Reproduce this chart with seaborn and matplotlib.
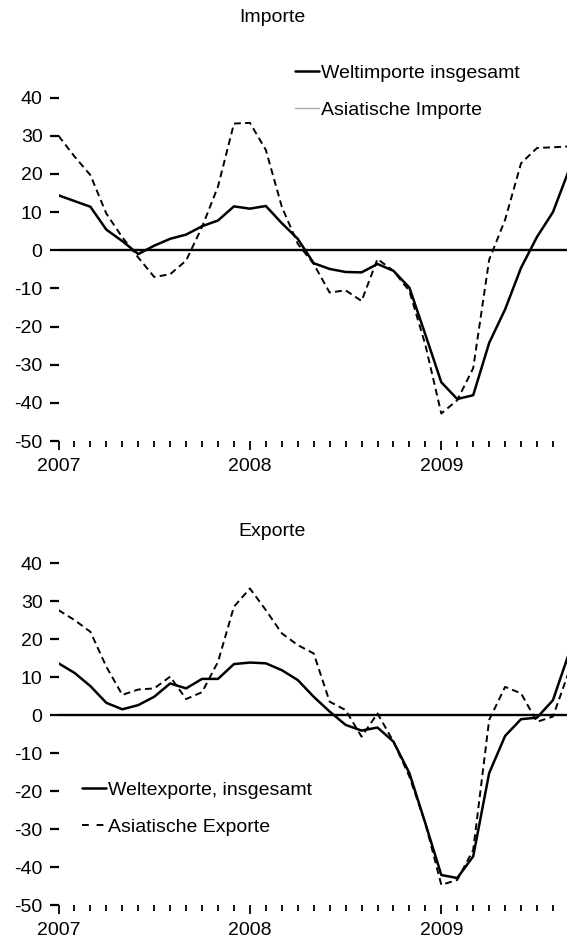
import matplotlib
matplotlib.use("Agg")
import numpy as np
import pandas as pd
import matplotlib.pyplot as plt
import seaborn as sns
from matplotlib.lines import Line2D
from matplotlib.ticker import FixedLocator

# -----------------------------
# Data (monthly, Jan 2007 - Sep 2009, % yoy)
# -----------------------------

months = pd.period_range("2007-01", "2009-09", freq="M").astype(str).tolist()
year_labels = ["2007", "2008", "2009"]

welt_importe = [14.4, 12.9, 11.4, 5.4, 2.4, -1.0, 1.2, 3.0, 4.1, 6.3, 7.8, 11.5,
                10.9, 11.6, 7.1, 3.0, -3.4, -4.9, -5.7, -5.8, -3.6, -5.4, -9.8, -22.1,
                -34.6, -39.0, -38.0, -24.3, -15.5, -4.6, 3.5, 10.0, 21.0]
asien_importe = [30.0, 24.6, 19.7, 9.6, 3.4, -1.9, -7.0, -6.3, -2.7, 6.1, 16.7, 33.2,
                 33.4, 26.3, 11.4, 1.7, -3.6, -11.1, -10.5, -13.3, -2.3, -5.4, -10.7, -24.8,
                 -42.8, -39.3, -30.9, -2.5, 8.0, 22.8, 26.8, 27.0, 27.2]

welt_exporte = [13.6, 11.1, 7.6, 3.2, 1.5, 2.6, 4.8, 8.3, 7.0, 9.5, 9.5, 13.4,
                13.8, 13.6, 11.8, 9.2, 4.8, 0.9, -2.6, -4.1, -3.3, -7.0, -15.3, -28.5,
                -42.1, -42.9, -37.2, -15.3, -5.5, -1.1, -0.7, 3.9, 16.2]
asien_exporte = [27.6, 25.0, 21.9, 12.7, 5.3, 6.7, 7.0, 10.1, 4.2, 6.0, 14.0, 28.5,
                 33.3, 27.6, 21.5, 18.4, 16.2, 3.5, 1.3, -5.7, 0.4, -7.0, -16.2, -28.5,
                 -44.7, -43.4, -35.5, -1.3, 7.4, 5.7, -1.8, -0.4, 11.4]

df = pd.DataFrame({
    "monat": months,
    "t": np.arange(len(months)),
    "welt_importe": welt_importe,
    "asien_importe": asien_importe,
    "welt_exporte": welt_exporte,
    "asien_exporte": asien_exporte,
})

# -----------------------------
# Style
# -----------------------------

sns.set_style("white")
plt.rcParams["font.family"] = ["Liberation Sans", "DejaVu Sans"]
plt.rcParams["text.color"] = "black"
plt.rcParams["xtick.color"] = "black"
plt.rcParams["ytick.color"] = "black"

W, H = 567, 941
fig = plt.figure(figsize=(W / 100, H / 100), dpi=100)

px_month = 15.95
x_left = 58.5
x_width = px_month * (len(months) - 1)
FS = 14


def make_axes(y_bottom_px, px_unit):
    # y_bottom_px = pixel row (from top) of the -50 level
    ymin, ymax = -50, 45
    h = (ymax - ymin) * px_unit
    ax = fig.add_axes([x_left / W, (H - y_bottom_px) / H, x_width / W, h / H])
    ax.set_ylim(ymin, ymax)
    ax.set_xlim(0, len(months) - 1)
    return ax


def style_axes(ax):
    sns.despine(ax=ax, left=True, bottom=True, top=True, right=True)
    ax.axhline(0, color="black", lw=1.7, zorder=1)
    ax.set_yticks(range(-50, 41, 10))
    ax.set_yticklabels([str(v) for v in range(-50, 41, 10)])
    years = [i for i, m in enumerate(months) if m.endswith("-01")]
    ax.xaxis.set_major_locator(FixedLocator(years))
    ax.xaxis.set_minor_locator(FixedLocator([i for i in range(len(months)) if i not in years]))
    ax.set_xticklabels(year_labels)
    ax.tick_params(axis="y", direction="out", length=6.5, width=1.6, pad=5,
                   labelsize=FS, left=True)
    ax.tick_params(axis="x", which="major", direction="out", length=6.5, width=1.3,
                   pad=6, labelsize=FS, bottom=True)
    ax.tick_params(axis="x", which="minor", direction="out", length=4, width=1.3, bottom=True)
    ax.set_xlabel("")
    ax.set_ylabel("")
    ax.grid(False)


# -----------------------------
# Importe
# -----------------------------

ax1 = make_axes(441, 3.815)
sns.lineplot(data=df, x="t", y="welt_importe", ax=ax1, color="black", lw=1.8)
sns.lineplot(data=df, x="t", y="asien_importe", ax=ax1, color="black", lw=1.4,
             linestyle=(0, (3.5, 2.2)))
style_axes(ax1)
fig.text(272 / W, 1 - 17 / H, "Importe", ha="center", va="center", fontsize=FS)

h1 = [Line2D([], [], color="black", lw=1.8),
      Line2D([], [], color="#aaaaaa", lw=1.0)]
ax1.legend(h1, ["Weltimporte insgesamt", "Asiatische Importe"],
           loc="upper left", bbox_to_anchor=(295 / W, 1 - 64 / H),
           bbox_transform=fig.transFigure, frameon=False, fontsize=FS,
           handlelength=1.25, handletextpad=0.08, labelspacing=1.0,
           borderpad=0, borderaxespad=0)

# -----------------------------
# Exporte
# -----------------------------

ax2 = make_axes(905, 3.80)
sns.lineplot(data=df, x="t", y="welt_exporte", ax=ax2, color="black", lw=1.8)
sns.lineplot(data=df, x="t", y="asien_exporte", ax=ax2, color="black", lw=1.4,
             linestyle=(0, (3.5, 2.2)))
style_axes(ax2)
fig.text(272 / W, 1 - 532 / H, "Exporte", ha="center", va="center", fontsize=FS)

h2 = [Line2D([], [], color="black", lw=1.8),
      Line2D([], [], color="black", lw=1.4, linestyle=(0, (3.5, 4)))]
ax2.legend(h2, ["Weltexporte, insgesamt", "Asiatische Exporte"],
           loc="upper left", bbox_to_anchor=(82 / W, 1 - 781 / H),
           bbox_transform=fig.transFigure, frameon=False, fontsize=FS,
           handlelength=1.25, handletextpad=0.08, labelspacing=1.0,
           borderpad=0, borderaxespad=0)

fig.savefig("out.png", dpi=100)
